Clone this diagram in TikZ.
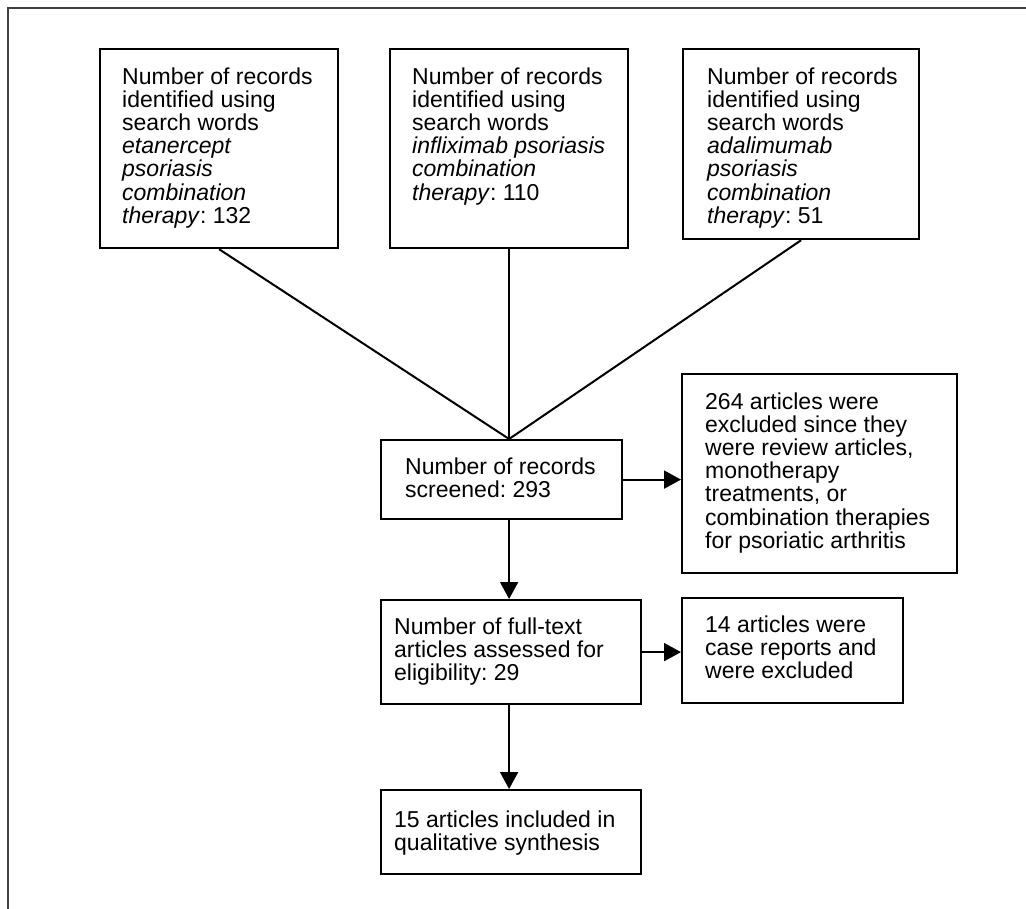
\documentclass[tikz,border=0pt]{standalone}
\usepackage{fontspec}
\setmainfont{Liberation Sans}
\frenchspacing
\usetikzlibrary{arrows.meta,calc}
\tikzset{
  box/.style={draw=black, line width=2.2pt, rectangle, inner sep=0pt, anchor=north west},
  txt/.style={anchor=north west, align=left, inner sep=0pt, font=\fontsize{23}{23.2}\selectfont},
  conn/.style={draw=black, line width=2pt},
  arr/.style={draw=black, line width=2pt, -{Triangle[length=17pt,width=18pt]}},
  frame/.style={draw=black!75, line width=2pt}
}
\begin{document}
\begin{tikzpicture}[x=1pt,y=-1pt]
\useasboundingbox (0,0) rectangle (1026,909);
\draw[frame] (8,909) -- (8,8) -- (1026,8);
% top boxes
\node[box, minimum width=238pt, minimum height=199pt] (b1) at (99,48) {};
\node[txt] (t1) at ($(b1.north west)+(23,19.2)$) {Number of records\\identified using\\search words\\\textit{etanercept}\\\textit{psoriasis}\\\textit{combination}\\\textit{therapy}: 132};
\node[box, minimum width=238pt, minimum height=199pt] (b2) at (389,48) {};
\node[txt] (t2) at ($(b2.north west)+(23,19.2)$) {Number of records\\identified using\\search words\\\textit{infliximab psoriasis}\\\textit{combination}\\\textit{therapy}: 110};
\node[box, minimum width=236pt, minimum height=190pt] (b3) at (682,48) {};
\node[txt] (t3) at ($(b3.north west)+(25,19.2)$) {Number of records\\identified using\\search words\\\textit{adalimumab}\\\textit{psoriasis}\\\textit{combination}\\\textit{therapy}: 51};
% middle
\node[box, minimum width=241pt, minimum height=79pt] (mid) at (380,439) {};
\node[txt] (tm) at ($(mid.north west)+(25,18.2)$) {Number of records\\screened: 293};
\node[box, minimum width=275pt, minimum height=199pt] (b4) at (681,373) {};
\node[txt] (t4) at ($(b4.north west)+(24,19.2)$) {264 articles were\\excluded since they\\were review articles,\\monotherapy\\treatments, or\\combination therapies\\for psoriatic arthritis};
\node[box, minimum width=260pt, minimum height=104pt] (ft) at (380,599) {};
\node[txt] (tf) at ($(ft.north west)+(14,18.2)$) {Number of full-text\\articles assessed for\\eligibility: 29};
\node[box, minimum width=221pt, minimum height=105pt] (b5) at (681,597) {};
\node[txt] (t5) at ($(b5.north west)+(24,18.2)$) {14 articles were\\case reports and\\were excluded};
\node[box, minimum width=260pt, minimum height=84pt] (fin) at (380,789) {};
\node[txt] (tfin) at ($(fin.north west)+(14,21.2)$) {15 articles included in\\qualitative synthesis};
% connectors
\coordinate (apex) at (b2.south |- mid.north);
\draw[conn] (b1.south) -- (apex);
\draw[conn] (b2.south) -- (apex);
\draw[conn] (b3.south) -- (apex);
\draw[arr] (mid.east) -- (mid.east -| b4.west);
\draw[arr] (apex |- mid.south) -- (apex |- ft.north);
\draw[arr] (ft.east) -- (ft.east -| b5.west);
\draw[arr] (apex |- ft.south) -- (apex |- fin.north);
\end{tikzpicture}
\end{document}
